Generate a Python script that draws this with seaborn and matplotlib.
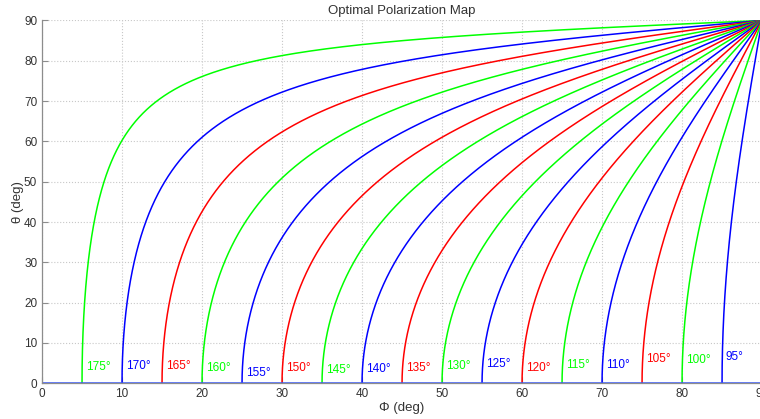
import numpy as np
import pandas as pd
import matplotlib
matplotlib.use("Agg")
import matplotlib.pyplot as plt
import seaborn as sns

# ---- data ----
start_phi = [5, 10, 15, 20, 25, 30, 35, 40, 45, 50, 55, 60, 65, 70, 75, 80, 85]
labels = ["175°", "170°", "165°", "160°", "155°", "150°", "145°", "140°", "135°",
          "130°", "125°", "120°", "115°", "110°", "105°", "100°", "95°"]
label_theta = [4.0, 4.4, 4.3, 3.7, 2.6, 3.7, 3.3, 3.5, 3.7, 4.3, 4.7, 3.7, 4.5, 4.6, 6.0, 5.8, 6.4]
curve_colors = ["#00ff00", "#0000ff", "#ff0000"] * 6
x_ticks = [0, 10, 20, 30, 40, 50, 60, 70, 80, 90]
y_ticks = [0, 10, 20, 30, 40, 50, 60, 70, 80, 90]

sns.set_theme(style="white")
plt.rcParams['font.family'] = ['Liberation Sans', 'DejaVu Sans']

fig = plt.figure(figsize=(7.6, 4.19), dpi=100)
ax = fig.add_axes([0.0553, 0.0852, 0.9474, 0.866])

theta = np.linspace(0, 90, 3000)
rows = []
for i, p0 in enumerate(start_phi):
    phi = np.degrees(np.arctan(np.tan(np.radians(p0)) / np.cos(np.radians(theta))))
    rows.append(pd.DataFrame({"phi": phi, "theta": theta, "curve": labels[i]}))
df = pd.concat(rows, ignore_index=True)
palette = {lab: curve_colors[i] for i, lab in enumerate(labels)}
sns.lineplot(data=df, x="phi", y="theta", hue="curve", palette=palette,
             estimator=None, sort=False, legend=False, linewidth=1.1, ax=ax)

sns.lineplot(x=[0, 90], y=[0, 0], color="#3355ff", linewidth=1.8, ax=ax)

for i, p0 in enumerate(start_phi):
    ax.text(p0 + 0.45, label_theta[i], labels[i], color=curve_colors[i],
            fontsize=8.5, va="center", ha="left")

ax.set_xlim(0, 90)
ax.set_ylim(0, 90)
ax.set_xticks(x_ticks)
ax.set_yticks(y_ticks)
ax.grid(True, color="#c8c8c8", linestyle=":", linewidth=0.8)
for s in ["top", "right"]:
    ax.spines[s].set_visible(False)
for s in ["left", "bottom"]:
    ax.spines[s].set_color("#8c8c8c")
    ax.spines[s].set_linewidth(0.9)
ax.tick_params(direction="in", length=4, width=0.8, color="#8c8c8c",
               labelsize=8.5, labelcolor="#333333", left=True, bottom=True)
ax.set_xlabel("Φ (deg)", fontsize=9.5, color="#333333", labelpad=1)
ax.set_ylabel("θ (deg)", fontsize=9.5, color="#333333", labelpad=0)
ax.set_title("Optimal Polarization Map", fontsize=9.5, color="#333333", pad=5)

fig.savefig("out.png", dpi=100)
